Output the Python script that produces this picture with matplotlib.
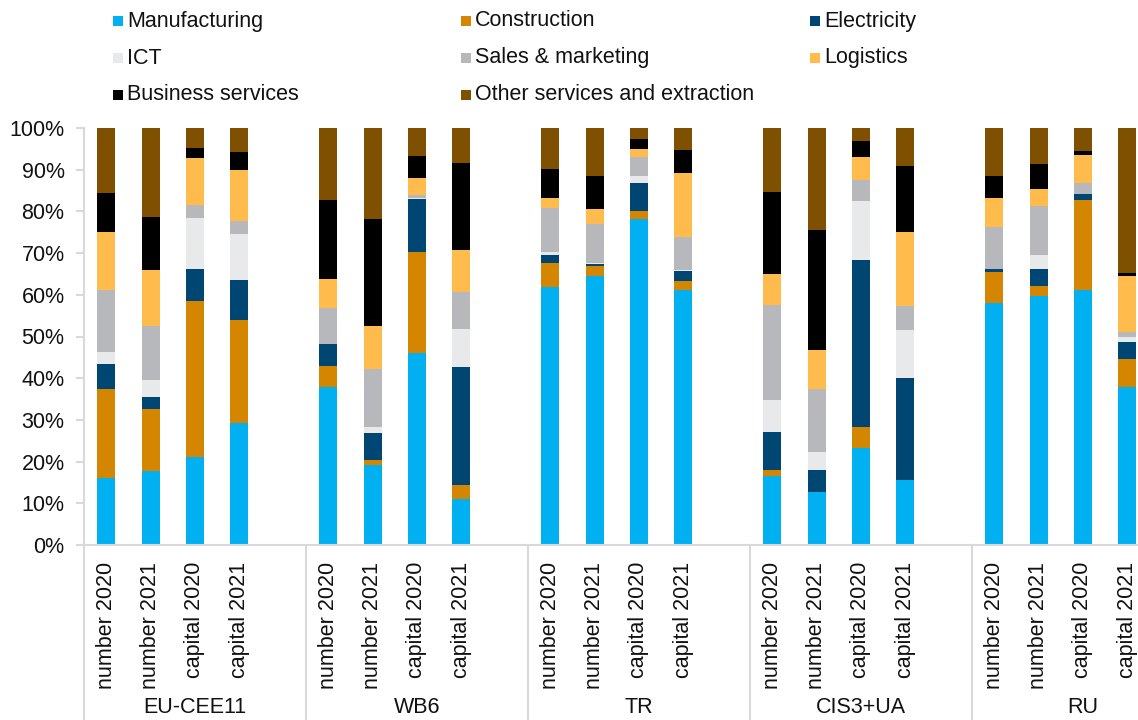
import numpy as np
import matplotlib.pyplot as plt
from matplotlib.patches import Rectangle
from matplotlib.transforms import blended_transform_factory

plt.rcParams['font.family'] = ['Liberation Sans', 'DejaVu Sans']

groups = ["EU-CEE11", "WB6", "TR", "CIS3+UA", "RU"]
bar_labels = ["number 2020", "number 2021", "capital 2020", "capital 2021"]

# shares in %, 4 bars per group, groups in order above
manufacturing = [16.1, 17.7, 21.1, 29.2,  37.8, 19.1, 46.0, 11.0,  61.9, 64.4, 78.2, 61.2,  16.6, 12.7, 23.2, 15.6,  58.0, 59.6, 61.2, 37.8]
construction  = [21.4, 14.8, 37.4, 24.8,   5.2,  1.3, 24.2,  3.4,   5.8,  2.6,  1.9,  2.1,   1.5,  0.0,  5.0,  0.0,   7.5,  2.6, 21.5,  6.8]
electricity   = [ 5.8,  3.0,  7.8,  9.6,   5.2,  6.4, 12.7, 28.4,   1.9,  0.5,  6.6,  2.4,   9.1,  5.4, 40.1, 24.4,   0.7,  3.9,  1.5,  4.2]
ict           = [ 3.0,  4.1, 12.2, 11.1,   0.0,  1.4,  0.3,  9.0,   0.6,  0.2,  1.9,  0.2,   7.6,  4.2, 14.1, 11.6,   0.0,  3.4,  0.0,  1.2]
sales         = [14.8, 12.8,  3.1,  3.0,   8.7, 14.1,  0.8,  8.8,  10.7,  9.3,  4.5,  8.0,  22.8, 15.0,  5.2,  5.6,  10.1, 11.9,  2.7,  1.0]
logistics     = [13.9, 13.5, 11.3, 12.3,   6.8, 10.2,  3.9, 10.2,   2.4,  3.5,  1.8, 15.2,   7.5,  9.5,  5.5, 17.8,   7.0,  4.0,  6.6, 13.6]
business      = [ 9.5, 12.8,  2.4,  4.3,  19.0, 25.6,  5.5, 20.9,   6.9,  8.0,  2.4,  5.7,  19.6, 28.7,  3.9, 16.0,   5.2,  6.0,  1.1,  0.6]
other         = [15.5, 21.3,  4.7,  5.7,  17.3, 21.9,  6.6,  8.3,   9.8, 11.5,  2.7,  5.2,  15.3, 24.5,  3.0,  9.0,  11.5,  8.6,  5.4, 34.8]

series = [
    ("Manufacturing", manufacturing, "#00b0f0"),
    ("Construction", construction, "#d48600"),
    ("Electricity", electricity, "#004672"),
    ("ICT", ict, "#e8e9ea"),
    ("Sales & marketing", sales, "#b7b8bb"),
    ("Logistics", logistics, "#ffbb4c"),
    ("Business services", business, "#000000"),
    ("Other services and extraction", other, "#7e5000"),
]

fig = plt.figure(figsize=(11.38, 7.2), dpi=100)
ax = fig.add_axes([84 / 1138, 175 / 720, 1 - 84 / 1138, 417 / 720])

x = np.array([g * 5 + i for g in range(len(groups)) for i in range(len(bar_labels))])
bottom = np.zeros(len(x))
for name, vals, col in series:
    vals = np.array(vals)
    ax.bar(x, vals, bottom=bottom, width=0.405, color=col, linewidth=0)
    bottom += vals

ax.set_xlim(-0.5, 23.24)
ax.set_ylim(0, 100)
ax.set_yticks(np.arange(0, 101, 10))
ax.set_yticklabels([f"{v}%" for v in range(0, 101, 10)])
ax.set_xticks(x)
ax.set_xticklabels(bar_labels * len(groups), rotation=90)

gray = "#d9d9d9"
for s in ["top", "right"]:
    ax.spines[s].set_visible(False)
ax.spines["left"].set_color(gray)
ax.spines["bottom"].set_color(gray)
ax.spines["left"].set_linewidth(1.5)
ax.spines["bottom"].set_linewidth(1.5)
ax.tick_params(axis="y", length=6, color=gray, width=1.5, labelsize=15.5, pad=8, labelcolor="#111111")
ax.tick_params(axis="x", length=0, labelsize=15.5, pad=12, labelcolor="#111111")

# group separators and group names below the axis
trans = blended_transform_factory(ax.transData, ax.transAxes)
for g in range(len(groups) + 1):
    ax.plot([g * 5 - 0.5] * 2, [0, -0.43], transform=trans, color=gray,
            linewidth=1.5, clip_on=False)
for g, name in enumerate(groups):
    ax.text(g * 5 + 2, -0.39, name, transform=trans, ha="center", va="center",
            fontsize=15.5, color="#111111")

# legend, 3 columns filled row by row
col_x = [113, 461, 810]
row_y = [21, 58, 95]
for k, (name, vals, col) in enumerate(series):
    r, c = divmod(k, 3)
    px, py = col_x[c], 720 - row_y[r]
    fig.add_artist(Rectangle((px / 1138, (py - 5) / 720), 10 / 1138, 10 / 720,
                             transform=fig.transFigure, color=col, linewidth=0))
    fig.text((px + 14) / 1138, py / 720, name, ha="left", va="center",
             fontsize=15.5, color="#111111")

fig.savefig("out.png", dpi=100)
